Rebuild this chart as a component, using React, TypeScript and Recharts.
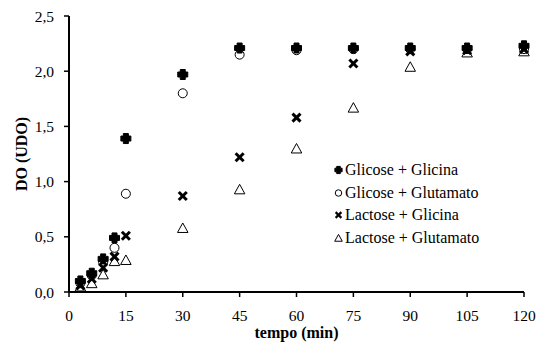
import { ScatterChart, Scatter, XAxis, YAxis, Legend } from "recharts";

const tempo = [3, 6, 9, 12, 15, 30, 45, 60, 75, 90, 105, 120];
const glicoseGlicina = [0.1, 0.17, 0.3, 0.49, 1.39, 1.97, 2.21, 2.21, 2.21, 2.21, 2.21, 2.23];
const glicoseGlutamato = [0.08, 0.15, 0.27, 0.4, 0.89, 1.8, 2.15, 2.19, 2.2, 2.2, 2.2, 2.2];
const lactoseGlicina = [0.06, 0.12, 0.22, 0.32, 0.51, 0.87, 1.22, 1.58, 2.07, 2.18, 2.19, 2.2];
const lactoseGlutamato = [0.05, 0.08, 0.16, 0.28, 0.29, 0.58, 0.93, 1.3, 1.67, 2.04, 2.17, 2.18];

const xTicks = [0, 15, 30, 45, 60, 75, 90, 105, 120];
const yTicks = [0, 0.5, 1, 1.5, 2, 2.5];

const toPoints = (vals: number[]) => tempo.map((t, i) => ({ t, v: vals[i] }));

const FONT = "'Times New Roman', 'Liberation Serif', 'DejaVu Serif', serif";

type MarkProps = { cx?: number; cy?: number; s?: number };

function PlusMark({ cx = 0, cy = 0, s = 5 }: MarkProps) {
  const a = s * 0.5;
  const d = `M${cx - a},${cy - s} H${cx + a} V${cy - a} H${cx + s} V${cy + a} H${cx + a} V${cy + s} H${cx - a} V${cy + a} H${cx - s} V${cy - a} H${cx - a} Z`;
  return <path d={d} fill="#000" stroke="#000" strokeWidth={1} strokeLinejoin="round" />;
}

function CircleMark({ cx = 0, cy = 0, s = 5 }: MarkProps) {
  return <circle cx={cx} cy={cy} r={s * 0.9} fill="none" stroke="#000" strokeWidth={1} />;
}

function XMark({ cx = 0, cy = 0, s = 5 }: MarkProps) {
  const k = s * 0.8;
  return (
    <g stroke="#000" strokeWidth={s * 0.6}>
      <line x1={cx - k} y1={cy - k} x2={cx + k} y2={cy + k} />
      <line x1={cx - k} y1={cy + k} x2={cx + k} y2={cy - k} />
    </g>
  );
}

function TriMark({ cx = 0, cy = 0, s = 5 }: MarkProps) {
  const d = `M${cx},${cy - s} L${cx + s * 1.05},${cy + s * 0.9} L${cx - s * 1.05},${cy + s * 0.9} Z`;
  return <path d={d} fill="none" stroke="#000" strokeWidth={1} />;
}

const series = [
  { name: "Glicose + Glicina", values: glicoseGlicina, Mark: PlusMark },
  { name: "Glicose + Glutamato", values: glicoseGlutamato, Mark: CircleMark },
  { name: "Lactose + Glicina", values: lactoseGlicina, Mark: XMark },
  { name: "Lactose + Glutamato", values: lactoseGlutamato, Mark: TriMark },
];

function LegendBox() {
  return (
    <div style={{ fontFamily: FONT, fontSize: 16, color: "#000", lineHeight: 1 }}>
      {series.map(({ name, Mark }) => (
        <div key={name} style={{ display: "flex", alignItems: "center", height: 22.7 }}>
          <svg width={12} height={12}>
            <Mark cx={5.5} cy={6} s={3.6} />
          </svg>
          <span style={{ whiteSpace: "nowrap" }}>{name}</span>
        </div>
      ))}
    </div>
  );
}

const fmt = (v: number) => v.toFixed(1).replace(".", ",");

export default function App() {
  return (
    <div style={{ position: "absolute", left: 0, top: 0, background: "#fff", fontFamily: FONT }}>
      <ScatterChart width={539} height={343} margin={{ top: 16, right: 15, bottom: 0, left: 0 }}>
        <XAxis
          type="number"
          dataKey="t"
          domain={[0, 120]}
          ticks={xTicks}
          interval={0}
          height={51}
          axisLine={{ stroke: "#000", strokeWidth: 2 }}
          tickLine={{ stroke: "#000", strokeWidth: 1.5 }}
          tickSize={5}
          tickMargin={13}
          tick={{ fill: "#000", fontSize: 15.5, fontFamily: FONT }}
          label={{
            value: "tempo (min)",
            position: "insideBottom",
            offset: 5,
            fill: "#000",
            fontSize: 16,
            fontWeight: "bold",
            fontFamily: FONT,
          }}
        />
        <YAxis
          type="number"
          dataKey="v"
          domain={[0, 2.5]}
          ticks={yTicks}
          interval={0}
          width={69}
          axisLine={{ stroke: "#000", strokeWidth: 2 }}
          tickLine={{ stroke: "#000", strokeWidth: 1.5 }}
          tickSize={5}
          tickMargin={10}
          tickFormatter={fmt}
          tick={{ fill: "#000", fontSize: 15.5, fontFamily: FONT }}
          label={{
            content: (props: any) => {
              const vb = props.viewBox || {};
              const cx = (vb.x ?? 0) + 21;
              const cy = (vb.y ?? 0) + (vb.height ?? 0) / 2;
              return (
                <text
                  x={cx}
                  y={cy}
                  transform={`rotate(-90 ${cx} ${cy})`}
                  textAnchor="middle"
                  dominantBaseline="central"
                  fill="#000"
                  fontSize={16}
                  fontWeight="bold"
                  fontFamily={FONT}
                >
                  DO (UDO)
                </text>
              );
            },
          }}
        />
        <Legend
          layout="vertical"
          align="center"
          verticalAlign="middle"
          content={() => <LegendBox />}
          wrapperStyle={{ position: "absolute", left: 333, top: 158.6, width: "auto" }}
        />
        {series.map(({ name, values, Mark }) => (
          <Scatter
            key={name}
            name={name}
            data={toPoints(values)}
            isAnimationActive={false}
            shape={(p: any) => <Mark cx={p.cx} cy={p.cy} s={5} />}
          />
        ))}
      </ScatterChart>
    </div>
  );
}
